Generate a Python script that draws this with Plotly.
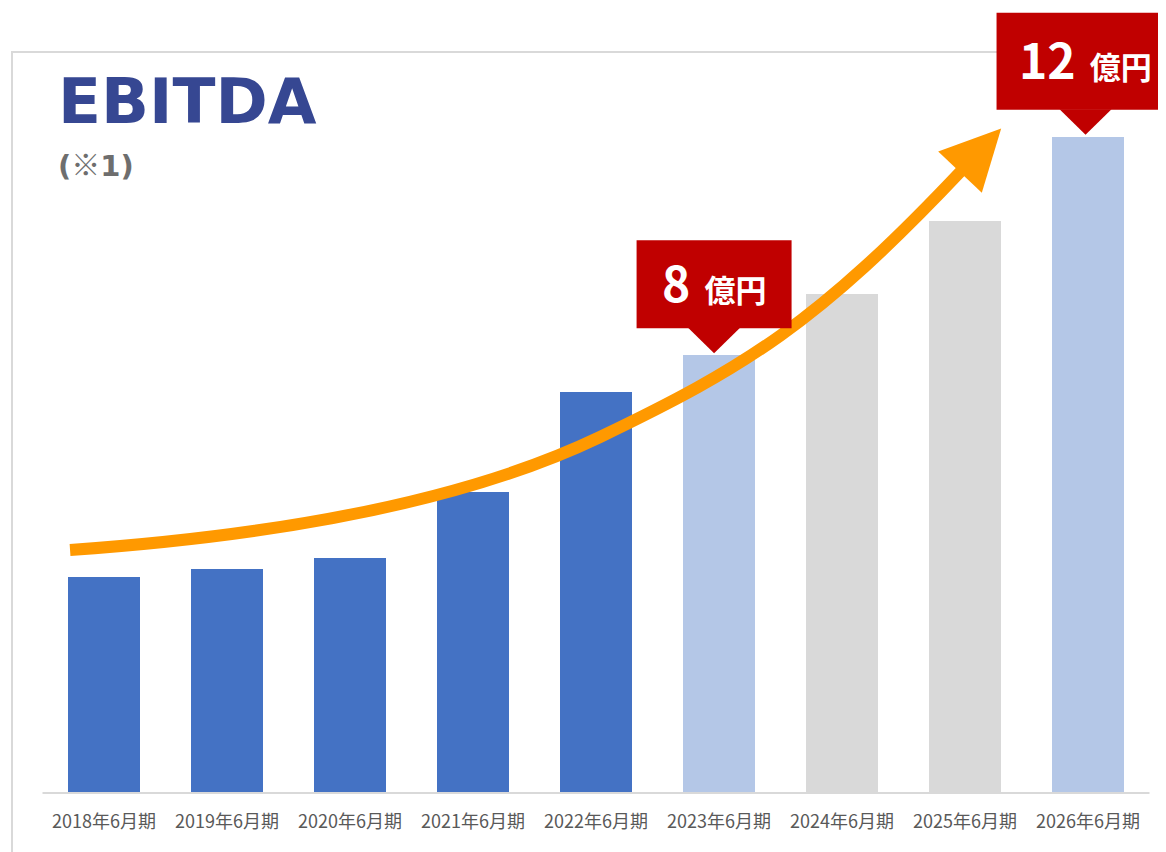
import math
import plotly.graph_objects as go

periods = ["2018年6月期", "2019年6月期", "2020年6月期", "2021年6月期", "2022年6月期",
           "2023年6月期", "2024年6月期", "2025年6月期", "2026年6月期"]
ebitda = [3.94, 4.08, 4.29, 5.49, 7.33, 8.0, 9.12, 10.46, 12.0]
last_actual = "2022年6月期"
callout_periods = ["2023年6月期", "2026年6月期"]
callout_labels = ["8", "12"]

# growth arrow as two cubic Bezier pieces (x = bar index, y = value)
arrow_x = [-0.276, 2.163, 3.382, 4.033, 5.211, 5.797, 6.976]
arrow_y = [4.432, 4.817, 5.799, 6.502, 7.777, 8.577, 11.392]

# the page body has an 8px margin, so the figure sits 8px in from the screenshot corner
OFF = 8
W, H = 1166 - OFF, 852 - OFF
BOTTOM = 792 - OFF    # baseline row inside the figure
X0_PX, DX_PX = 104 - OFF, 123
DY_PX = 54.6
x_range = [-X0_PX / DX_PX, (W - X0_PX) / DX_PX]
y_range = [0, BOTTOM / DY_PX]


def px(x):
    # screen x -> paper
    return (x - OFF) / W


def py(y):
    # screen y -> paper
    return (BOTTOM - (y - OFF)) / BOTTOM


colors = []
for i, p in enumerate(periods):
    if i <= periods.index(last_actual):
        colors.append("#4472C4")
    elif p in callout_periods:
        colors.append("#B4C7E7")
    else:
        colors.append("#D9D9D9")

idx = list(range(len(periods)))

fig = go.Figure()
fig.add_trace(go.Bar(x=idx, y=ebitda, width=0.585,
                     marker=dict(color=colors, line=dict(width=0)),
                     hoverinfo="skip"))

shapes = []
annotations = []

# arrow shaft
a = list(zip(arrow_x, arrow_y))
shaft = "M {} {} C {} {}, {} {}, {} {} C {} {}, {} {}, {} {}".format(*[c for pt in a for c in pt])
shapes.append(dict(type="path", path=shaft, xref="x", yref="y",
                   line=dict(color="#FF9900", width=12), layer="above"))

# arrow head, built in pixel space from the end tangent
ex, ey = arrow_x[-1] * DX_PX, -arrow_y[-1] * DY_PX
ppx, ppy = arrow_x[-2] * DX_PX, -arrow_y[-2] * DY_PX
dx, dy = ex - ppx, ey - ppy
n = math.hypot(dx, dy)
dx, dy = dx / n, dy / n
ex, ey = ex - 3 * dx, ey - 3 * dy
tip = (ex + 60 * dx, ey + 60 * dy)
w1 = (ex - 30 * dy, ey + 30 * dx)
w2 = (ex + 30 * dy, ey - 30 * dx)
pts = [(u / DX_PX, -w / DY_PX) for u, w in (tip, w1, w2)]
head = "M {} {} L {} {} L {} {} Z".format(*[c for pt in pts for c in pt])
shapes.append(dict(type="path", path=head, xref="x", yref="y",
                   fillcolor="#FF9900", line=dict(width=0), layer="above"))

# red callouts
box_w = [155, 178]
box_h = [88, 97]
for k, p in enumerate(callout_periods):
    i = periods.index(p)
    v = ebitda[i]
    ci = i - 0.02 if k else i - 0.04
    tip_v = v + 2 / DY_PX
    base_v = tip_v + 25 / DY_PX
    top_v = base_v + box_h[k] / DY_PX
    hw = box_w[k] / 2 / DX_PX
    tw = 26 / DX_PX
    shapes.append(dict(type="rect", xref="x", yref="y", x0=ci - hw, x1=ci + hw,
                       y0=base_v, y1=top_v, fillcolor="#C00000", line=dict(width=0),
                       layer="above"))
    shapes.append(dict(type="path", xref="x", yref="y",
                       path=f"M {ci - tw} {base_v + 0.01} L {ci + tw} {base_v + 0.01} L {ci} {tip_v} Z",
                       fillcolor="#C00000", line=dict(width=0), layer="above"))
    annotations.append(dict(
        x=ci, y=(base_v + top_v) / 2 + 3 / DY_PX, xref="x", yref="y",
        xanchor="center", yanchor="middle", showarrow=False,
        text=f"<b>{callout_labels[k]}</b><span style='font-size:31px'><b>\u00a0\u00a0億円</b></span>",
        font=dict(family="Noto Sans CJK JP", size=48, color="white")))

# frame and baseline
shapes.append(dict(type="rect", xref="paper", yref="paper", x0=px(12), x1=px(1250),
                   y0=py(900), y1=py(52), line=dict(color="#D9D9D9", width=2),
                   fillcolor="rgba(0,0,0,0)", layer="below"))
shapes.append(dict(type="line", xref="x", yref="paper", x0=-0.5, x1=8.5,
                   y0=py(793), y1=py(793), line=dict(color="#D9D9D9", width=2),
                   layer="below"))

annotations.append(dict(x=px(56), y=py(101), xref="paper", yref="paper",
                        xanchor="left", yanchor="middle", showarrow=False,
                        text="<b>EBITDA</b>",
                        font=dict(family="DejaVu Sans", size=63, color="#364792")))
annotations.append(dict(x=px(56), y=py(163), xref="paper", yref="paper",
                        xanchor="left", yanchor="middle", showarrow=False,
                        text="<b>(<span style=\"font-family:'Noto Sans CJK JP'\">※</span>1)</b>",
                        font=dict(family="DejaVu Sans, Noto Sans CJK JP", size=29,
                                  color="#6E6E6E")))

fig.update_layout(
    width=W, height=H,
    margin=dict(l=0, r=0, t=0, b=H - BOTTOM, pad=0),
    paper_bgcolor="white", plot_bgcolor="white",
    showlegend=False, bargap=0,
    shapes=shapes, annotations=annotations,
    xaxis=dict(range=x_range, tickmode="array", tickvals=idx, ticktext=periods,
               showgrid=False, zeroline=False, showline=False, ticks="",
               ticklabelstandoff=17,
               tickfont=dict(family="Noto Sans CJK JP", size=18, color="#595959"),
               fixedrange=True),
    yaxis=dict(range=y_range, visible=False, showgrid=False, zeroline=False,
               fixedrange=True),
)

fig.write_html("out.html")
